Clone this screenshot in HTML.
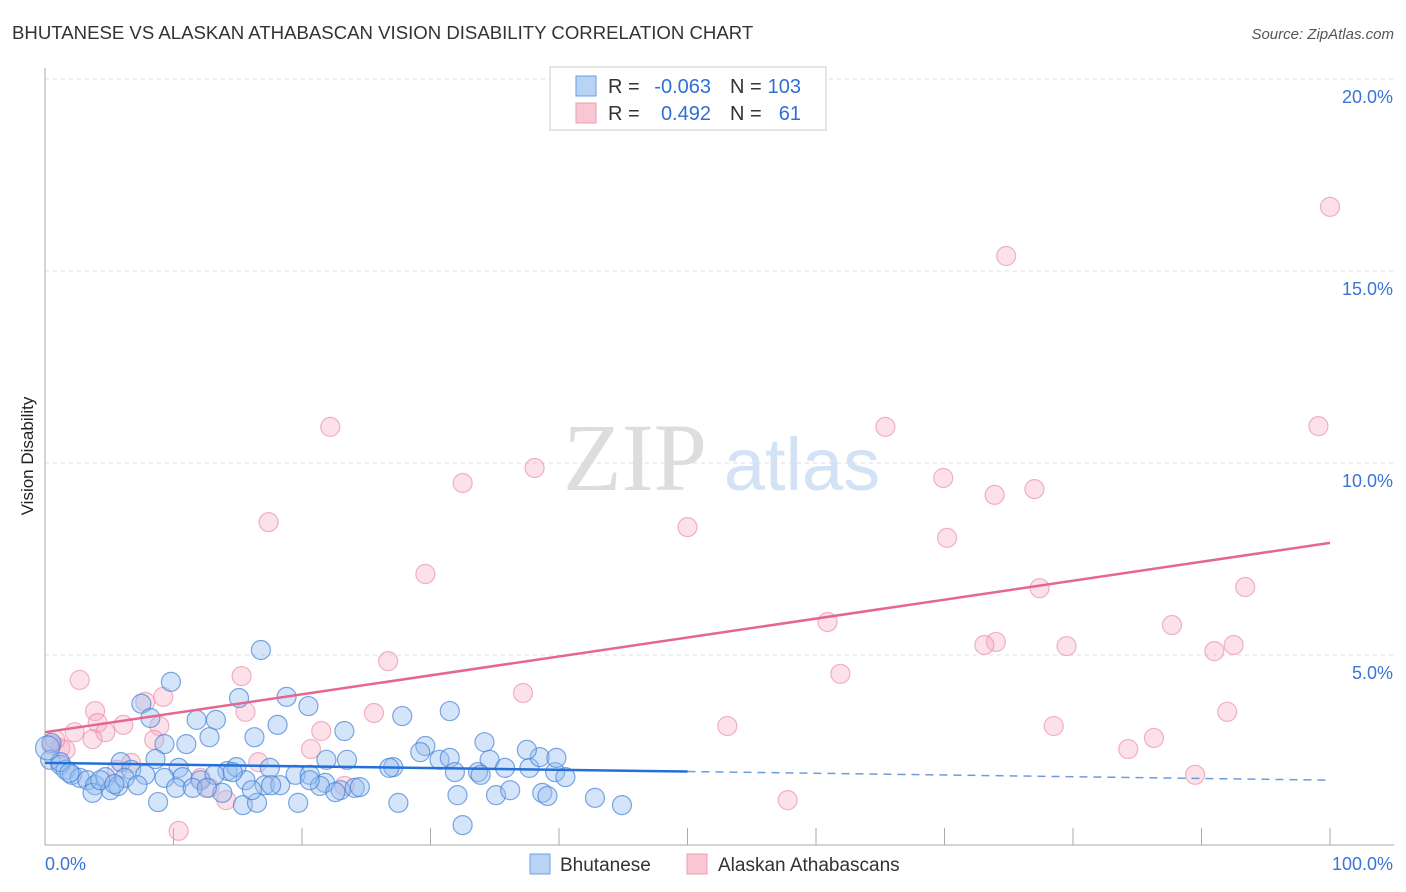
<!DOCTYPE html>
<html><head><meta charset="utf-8"><style>
body{margin:0;background:#fff;font-family:"Liberation Sans",sans-serif}
svg{display:block}
</style></head><body>
<svg id="chart" width="1406" height="892">
<text x="12" y="39" font-size="18.6" fill="#333">BHUTANESE VS ALASKAN ATHABASCAN VISION DISABILITY CORRELATION CHART</text>
<text x="1394" y="39" font-size="15" fill="#555" font-style="italic" text-anchor="end">Source: ZipAtlas.com</text>
<text x="33" y="456" font-size="17" fill="#222" text-anchor="middle" transform="rotate(-90 33 456)">Vision Disability</text>
<g><text x="635" y="490" font-size="96" fill="#ddd" font-family="Liberation Serif" text-anchor="middle">ZIP</text><text x="802" y="490" font-size="74" fill="#d3e2f5" text-anchor="middle">atlas</text></g>
<g id="grid"></g><g id="axes"></g><g id="pts"></g><g id="trend"></g>
<g>
<rect x="550" y="67" width="276" height="63" fill="#fff" stroke="#ccc"/>
<rect x="576" y="76" width="20" height="20" fill="#b9d3f5" stroke="#6e9ee0"/>
<rect x="576" y="103" width="20" height="20" fill="#f9c6d4" stroke="#ec9db5"/>
<text x="608" y="93" font-size="20" fill="#333">R =</text>
<text x="711" y="93" font-size="20" fill="#2f6fd6" text-anchor="end">-0.063</text>
<text x="730" y="93" font-size="20" fill="#333">N =</text>
<text x="801" y="93" font-size="20" fill="#2f6fd6" text-anchor="end">103</text>
<text x="608" y="120" font-size="20" fill="#333">R =</text>
<text x="711" y="120" font-size="20" fill="#2f6fd6" text-anchor="end">0.492</text>
<text x="730" y="120" font-size="20" fill="#333">N =</text>
<text x="801" y="120" font-size="20" fill="#2f6fd6" text-anchor="end">61</text>
</g>
<g>
<rect x="530" y="854" width="20" height="20" fill="#b9d3f5" stroke="#6e9ee0"/>
<text x="560" y="871" font-size="19" fill="#333">Bhutanese</text>
<rect x="687" y="854" width="20" height="20" fill="#f9c6d4" stroke="#ec9db5"/>
<text x="718" y="871" font-size="19" fill="#333">Alaskan Athabascans</text>
</g>
</svg>
<script>
const yTicks=[5,10,15,20];
const yTickLabels=["5.0%","10.0%","15.0%","20.0%"];
const xTickLabels=["0.0%","100.0%"];
const blueX=[16.8,9.8,7.5,18.8,20.5,15.1,8.2,11.8,13.3,18.1,12.8,16.3,9.3,11.0,23.3,27.8,31.5,34.2,29.6,29.2,27.1,8.6,5.9,6.7,10.4,14.2,17.5,14.9,0.5,0.4,1.2,1.6,2.1,2.7,3.3,3.9,4.7,5.1,5.7,6.2,7.8,9.3,10.7,12.1,13.2,15.6,17.1,18.3,19.5,20.6,21.8,23.0,24.1,24.5,19.7,15.4,16.5,10.2,11.5,13.8,16.1,21.4,22.6,3.7,8.8,30.7,31.5,31.9,33.7,34.6,35.8,37.7,39.7,40.5,38.5,37.5,39.8,27.5,32.1,33.9,35.1,36.2,38.7,39.1,42.8,44.9,32.5,4.3,5.4,7.2,1.2,1.9,14.6,12.6,26.8,21.9,23.5,17.6,20.6,0.2];
const blueY=[5.13,4.30,3.73,3.91,3.67,3.88,3.36,3.31,3.31,3.18,2.86,2.86,2.68,2.68,3.02,3.41,3.54,2.73,2.63,2.47,2.08,2.29,2.21,2.01,2.06,1.98,2.06,2.08,2.71,2.27,2.14,2.01,1.88,1.80,1.74,1.61,1.82,1.48,1.59,1.80,1.88,1.80,1.82,1.74,1.88,1.74,1.61,1.61,1.88,1.88,1.67,1.48,1.54,1.56,1.15,1.09,1.15,1.54,1.54,1.41,1.48,1.59,1.43,1.41,1.17,2.27,2.32,1.95,1.95,2.27,2.06,2.06,1.95,1.82,2.34,2.53,2.32,1.15,1.35,1.88,1.35,1.48,1.41,1.33,1.28,1.09,0.57,1.74,1.64,1.61,2.21,1.93,1.95,1.54,2.06,2.27,2.27,1.61,1.74,2.58];
const pinkX=[100,74.8,22.2,65.4,99.1,38.1,32.5,69.9,77.0,73.9,17.4,50.0,70.2,29.6,77.4,93.4,60.9,87.7,74.0,73.1,79.5,92.5,91.0,26.7,15.3,2.7,61.9,37.2,9.2,7.8,3.9,15.6,25.6,92.0,8.9,6.1,21.5,53.1,78.5,4.1,2.3,4.7,8.5,86.3,84.3,89.5,57.8,10.4,20.7,1.2,1.6,0.5,6.7,5.6,12.1,14.1,12.8,16.6,23.3,3.7,0.8];
const pinkY=[16.67,15.39,10.94,10.94,10.96,9.87,9.48,9.61,9.32,9.17,8.46,8.33,8.05,7.11,6.74,6.77,5.86,5.78,5.34,5.26,5.23,5.26,5.10,4.84,4.45,4.35,4.51,4.01,3.91,3.78,3.54,3.52,3.49,3.52,3.15,3.18,3.02,3.15,3.15,3.23,2.99,2.99,2.79,2.84,2.55,1.88,1.22,0.42,2.55,2.58,2.53,2.66,2.19,2.01,1.80,1.22,1.54,2.21,1.59,2.81,2.79];
const blueTrend=[2.19,1.74];
const pinkTrend=[2.99,7.92];
const NS="http://www.w3.org/2000/svg";
const X0=45,X1=1330,Y0=847,PY=38.4;
const sx=v=>X0+(X1-X0)*v/100, sy=v=>Y0-v*PY;
function mk(t,a,p){const e=document.createElementNS(NS,t);for(const k in a)e.setAttribute(k,a[k]);p.appendChild(e);return e;}
const grid=document.getElementById('grid'),axes=document.getElementById('axes');
yTicks.forEach((t,i)=>{
 const g=mk('line',{x1:X0,x2:1394,y1:sy(t),y2:sy(t),stroke:'#ddd','stroke-dasharray':'4,4'},grid);
 
 
 const l=mk('text',{x:1393,y:sy(t)+24,'font-size':18,fill:'#3a74d4','text-anchor':'end'},axes);
 l.textContent=yTickLabels[i];
 
 
});
let ya=mk('line',{x1:X0,x2:X0,y1:68,y2:845,stroke:'#aaa'},axes);


let xa=mk('line',{x1:X0,x2:1394,y1:845,y2:845,stroke:'#aaa'},axes);


for(let i=1;i<=10;i++){const t=mk('line',{x1:sx(i*10),x2:sx(i*10),y1:828,y2:845,stroke:'#aaa'},axes);
 
 }
[[0,'start',45],[100,'end',1393]].forEach((d,i)=>{const l=mk('text',{x:d[2],y:870,'font-size':18,fill:'#3a74d4','text-anchor':d[1]},axes);l.textContent=xTickLabels[i];
 
 });
const pts=document.getElementById('pts');
pinkX.forEach((x,i)=>{const c=mk('circle',{cx:sx(x),cy:sy(pinkY[i]),r:9.5,fill:'rgba(245,170,192,0.35)',stroke:'rgba(232,140,170,0.65)','stroke-width':1.2},pts);
 
 });
blueX.forEach((x,i)=>{const c=mk('circle',{cx:sx(x),cy:sy(blueY[i]),r:(i==blueX.length-1?12:9.5),fill:'rgba(150,190,240,0.4)',stroke:'rgba(70,130,215,0.7)','stroke-width':1.2},pts);
 
 });
const tr=document.getElementById('trend');
const bAt=v=>blueTrend[0]+(blueTrend[1]-blueTrend[0])*v/100;
let l1=mk('line',{x1:sx(0),y1:sy(bAt(0)),x2:sx(50),y2:sy(bAt(50)),stroke:'#2270d8','stroke-width':2.5},tr);


let l2=mk('line',{x1:sx(50),y1:sy(bAt(50)),x2:sx(100),y2:sy(bAt(100)),stroke:'#6a9de0','stroke-width':1.5,'stroke-dasharray':'8,6'},tr);


let l3=mk('line',{x1:sx(0),y1:sy(pinkTrend[0]),x2:sx(100),y2:sy(pinkTrend[1]),stroke:'#e5668f','stroke-width':2.5},tr);


</script>
</body></html>
